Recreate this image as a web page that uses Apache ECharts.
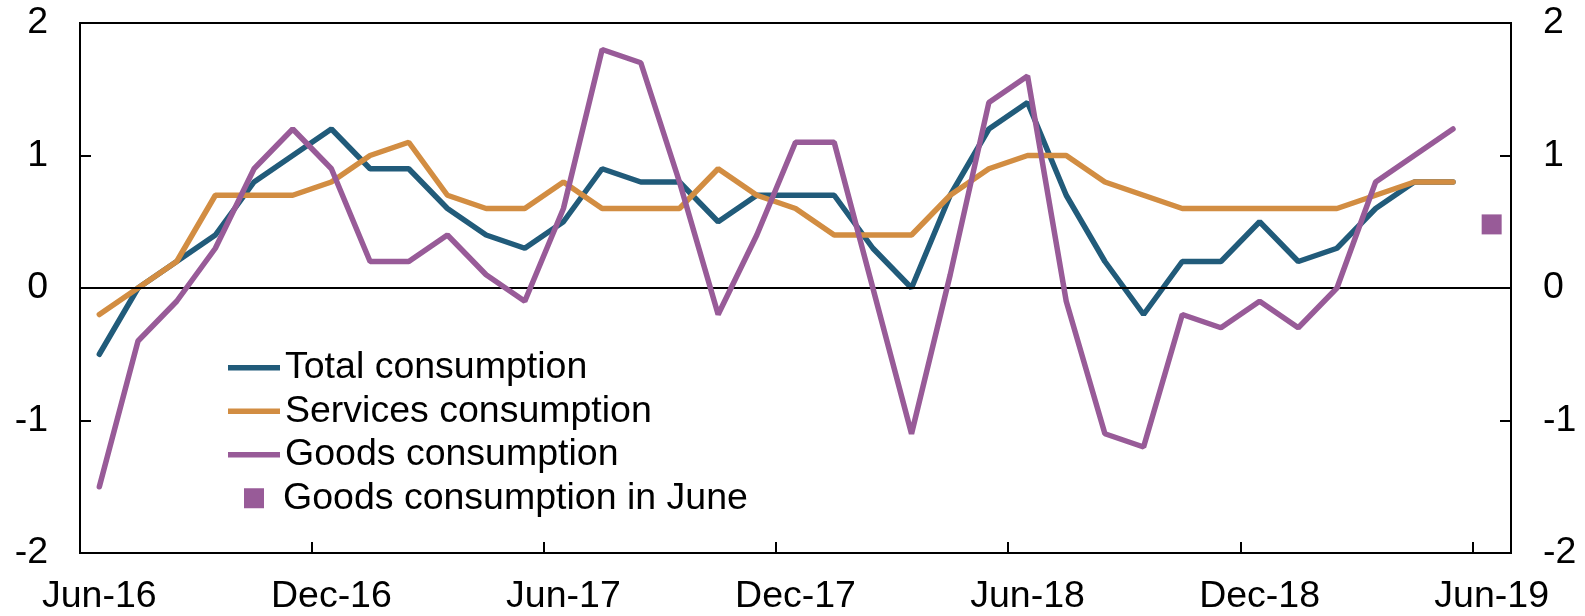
<!DOCTYPE html>
<html>
<head>
<meta charset="utf-8">
<script src="https://cdn.jsdelivr.net/npm/echarts@6/dist/echarts.min.js"></script>
<style>
html,body{margin:0;padding:0;background:#fff;}
#chart{width:1585px;height:616px;}
</style>
</head>
<body>
<div id="chart"></div>
<script>
var months = ['Jun-16','Jul-16','Aug-16','Sep-16','Oct-16','Nov-16','Dec-16','Jan-17','Feb-17','Mar-17','Apr-17','May-17',
  'Jun-17','Jul-17','Aug-17','Sep-17','Oct-17','Nov-17','Dec-17','Jan-18','Feb-18','Mar-18','Apr-18','May-18',
  'Jun-18','Jul-18','Aug-18','Sep-18','Oct-18','Nov-18','Dec-18','Jan-19','Feb-19','Mar-19','Apr-19','May-19','Jun-19'];
var totalConsumption = [-0.5,0,0.2,0.4,0.8,1.0,1.2,0.9,0.9,0.6,0.4,0.3,0.5,0.9,0.8,0.8,0.5,0.7,0.7,0.7,0.3,0.0,0.7,1.2,1.4,0.7,0.2,-0.2,0.2,0.2,0.5,0.2,0.3,0.6,0.8,0.8];
var servicesConsumption = [-0.2,0,0.2,0.7,0.7,0.7,0.8,1.0,1.1,0.7,0.6,0.6,0.8,0.6,0.6,0.6,0.9,0.7,0.6,0.4,0.4,0.4,0.7,0.9,1.0,1.0,0.8,0.7,0.6,0.6,0.6,0.6,0.6,0.7,0.8,0.8];
var goodsConsumption = [-1.5,-0.4,-0.1,0.3,0.9,1.2,0.9,0.2,0.2,0.4,0.1,-0.1,0.6,1.8,1.7,0.8,-0.2,0.4,1.1,1.1,0.0,-1.1,0.1,1.4,1.6,-0.1,-1.1,-1.2,-0.2,-0.3,-0.1,-0.3,0.0,0.8,1.0,1.2];
var goodsJuneMonth = 'Jun-19';
var goodsJuneValue = 0.48;
var yTicks = {min: -2, max: 2, interval: 1};

var FONT = 'Liberation Sans, Arial, sans-serif';
var FS = 37.5;
var C_TOTAL = '#215b7a', C_SERV = '#d28d42', C_GOODS = '#985b98';

var juneData = months.map(function (m) { return m === goodsJuneMonth ? goodsJuneValue : null; });

var yAxisCommon = function (pos) {
  return {
    type: 'value', position: pos,
    min: yTicks.min, max: yTicks.max, interval: yTicks.interval,
    axisLine: {show: true, onZero: false, lineStyle: {color: '#000', width: 2}},
    axisTick: {show: true, inside: true, length: 11, lineStyle: {color: '#000', width: 2}},
    axisLabel: {color: '#000', fontSize: FS, fontFamily: FONT, margin: 32},
    splitLine: {show: false}
  };
};

var chart = echarts.init(document.getElementById('chart'));
chart.setOption({
  animation: false,
  backgroundColor: '#fff',
  grid: {left: 80, right: 74, top: 23, bottom: 61, show: true, borderColor: '#000', borderWidth: 2, containLabel: false},
  legend: [{
    orient: 'vertical', left: 223, top: 341, itemWidth: 52, itemHeight: 5.5, itemGap: 0,
    icon: 'rect', selectedMode: false,
    textStyle: {color: '#000', fontSize: FS, fontFamily: FONT, lineHeight: 43.5},
    data: ['Total consumption', 'Services consumption', 'Goods consumption']
  }, {
    orient: 'vertical', left: 239, top: 471.5, itemWidth: 20, itemHeight: 20, itemGap: 0,
    icon: 'rect', selectedMode: false,
    textStyle: {color: '#000', fontSize: FS, fontFamily: FONT, lineHeight: 43.5, padding: [0, 0, 0, 14]},
    data: ['Goods consumption in June']
  }],
  xAxis: {
    type: 'category', data: months, boundaryGap: true,
    axisLine: {show: true, onZero: false, lineStyle: {color: '#000', width: 2}},
    axisTick: {show: true, inside: true, length: 11, interval: 5, lineStyle: {color: '#000', width: 2}},
    axisLabel: {color: '#000', fontSize: FS, fontFamily: FONT, interval: 5, margin: 25, showMaxLabel: true},
    splitLine: {show: false}
  },
  yAxis: [yAxisCommon('left'), yAxisCommon('right')],
  series: [{
    name: 'Total consumption', type: 'line', data: totalConsumption, showSymbol: false, symbol: 'none',
    lineStyle: {color: C_TOTAL, width: 5.5, cap: 'round'}, itemStyle: {color: C_TOTAL},
    markLine: {silent: true, symbol: 'none', label: {show: false}, animation: false,
      lineStyle: {color: '#000', width: 2, type: 'solid'}, data: [{yAxis: 0}]},
    z: 3
  }, {
    name: 'Services consumption', type: 'line', data: servicesConsumption, showSymbol: false, symbol: 'none',
    lineStyle: {color: C_SERV, width: 5.5, cap: 'round'}, itemStyle: {color: C_SERV}, z: 4
  }, {
    name: 'Goods consumption', type: 'line', data: goodsConsumption, showSymbol: false, symbol: 'none',
    lineStyle: {color: C_GOODS, width: 5.5, cap: 'round'}, itemStyle: {color: C_GOODS}, z: 5
  }, {
    name: 'Goods consumption in June', type: 'scatter', data: juneData, symbol: 'rect', symbolSize: 20,
    itemStyle: {color: C_GOODS, opacity: 1}, z: 5
  }]
});
</script>
</body>
</html>
